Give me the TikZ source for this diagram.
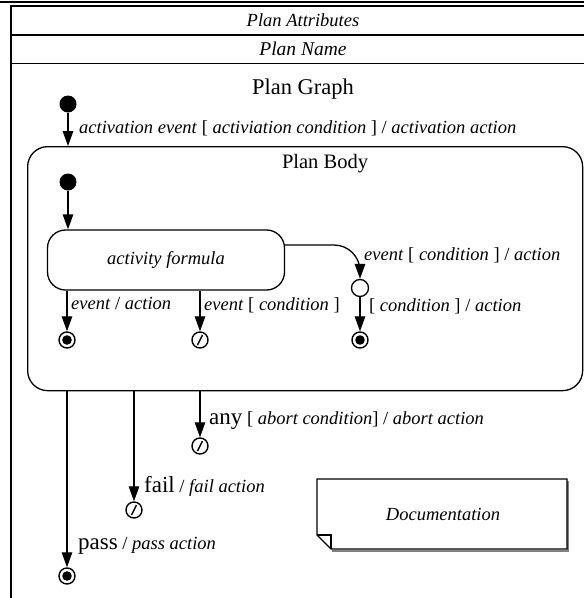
\documentclass[tikz,border=0pt]{standalone}
\usepackage{fontspec}
\setmainfont{Liberation Serif}
\usetikzlibrary{arrows.meta}

\newcommand{\lblsize}{\fontsize{18.5}{21}\selectfont}
\newcommand{\bigsize}{\fontsize{23}{25}\selectfont}
\newcommand{\titlesize}{\fontsize{20.5}{23}\selectfont}

\tikzset{
  line/.style={line width=1.3pt},
  arr/.style={line, -{Triangle[length=15pt,width=10.5pt]}},
  initdot/.style={circle, fill, inner sep=0pt, minimum size=17pt},
  finalstate/.style={circle, draw, line width=1.4pt, inner sep=0pt, minimum size=16pt,
    path picture={\fill (path picture bounding box.center) circle (4.8pt);}},
  termstate/.style={circle, draw, line width=1.4pt, inner sep=0pt, minimum size=16pt,
    path picture={\draw[line width=1.4pt]
      ([shift={(-2.5pt,-5pt)}]path picture bounding box.center) --
      ([shift={(2.5pt,5pt)}]path picture bounding box.center);}},
  choicestate/.style={circle, draw, line width=1.3pt, inner sep=0pt, minimum size=17pt},
  lbl/.style={anchor=west, inner sep=0pt, font=\lblsize},
  title/.style={inner sep=0pt, font=\titlesize},
  header/.style={inner sep=0pt, font=\lblsize\itshape},
}

\begin{document}
\begin{tikzpicture}[x=1pt,y=-1pt]
\useasboundingbox (0,0) rectangle (584,598);

% outer plan frame with its compartments
\draw[line width=2pt] (0,1.5) -- (584,1.5);
\draw[line width=1.8pt] (600,6) -| (11,610);
\draw[line width=1.8pt] (11,35) -- (600,35);
\draw[line width=1.8pt] (11,63.5) -- (600,63.5);
\node[header] (attr) at (303,20) {Plan Attributes};
\node[header, font=\fontsize{19.5}{22}\selectfont\itshape] (pname) at (303,49) {Plan Name};
\node[title, font=\fontsize{22.5}{24}\selectfont] (graph) at (303,89) {Plan Graph};

% plan body
\node[initdot] (init) at (68,104) {};
\node[draw, line, rounded corners=20pt, minimum width=555pt, minimum height=244pt,
      anchor=north west, inner sep=0pt] (body) at (27,146) {};
\draw[arr] (init) -- (init |- body.north);
\node[lbl] (actlbl) at (79,128)
  {\textit{activation event} [ \textit{activiation condition} ] / \textit{activation action}};
\node[title] (bodytitle) at (325,164) {Plan Body};

% activity formula and its exits
\node[initdot] (init2) at (68,182) {};
\node[draw, line, rounded corners=18pt, minimum width=237pt, minimum height=60pt,
      inner sep=0pt, font=\lblsize\itshape] (af) at (166,260) {activity formula};
\draw[arr] (init2) -- (init2 |- af.north);

\node[finalstate] (fin1) at (67,340) {};
\node[termstate] (term1) at (200,340) {};
\node[choicestate] (choice) at (360,288) {};
\node[finalstate] (fin2) at (360,340) {};

\draw[arr] (af.south -| fin1) -- (fin1);
\draw[arr] (af.south -| term1) -- (term1);
\coordinate (afexit) at ([yshift=15pt]af.east);
\draw[arr, rounded corners=26pt] (afexit) -| (choice.north);
\draw[arr] (choice) -- (fin2);

\node[lbl] (l1) at (71,303) {\textit{event} / \textit{action}};
\node[lbl] (l2) at (204,305) {\textit{event} [ \textit{condition} ]};
\node[lbl] (l3) at (364,255) {\textit{event} [ \textit{condition} ] / \textit{action}};
\node[lbl] (l4) at (369,306) {[ \textit{condition} ] / \textit{action}};

% plan outcomes
\node[termstate] (anyend) at (200,446) {};
\node[termstate] (failend) at (134,510) {};
\node[finalstate] (passend) at (67,576) {};
\draw[arr] (body.south -| anyend) -- (anyend);
\draw[arr] (body.south -| failend) -- (failend);
\draw[arr] (body.south -| passend) -- (passend);

\node[lbl] (anylbl) at (209,421)
  {{\bigsize any} [ \textit{abort condition}] / \textit{abort action}};
\node[lbl] (faillbl) at (144,486) {{\bigsize fail} / \textit{fail action}};
\node[lbl] (passlbl) at (78,546) {{\bigsize pass} / \textit{pass action}};

% documentation note with folded corner
\node[inner sep=0pt, font=\lblsize\itshape] (doc) at (443,514) {Documentation};
\draw[line width=2pt, gray] (568,481) -- (568,550.5) -- (332,550.5);
\draw[line] (317,479) -- (567,479) -- (567,549) -- (331,549) -- (317,535) -- cycle;
\draw[line] (317,535) -- (331,535) -- (331,549);
\end{tikzpicture}
\end{document}
